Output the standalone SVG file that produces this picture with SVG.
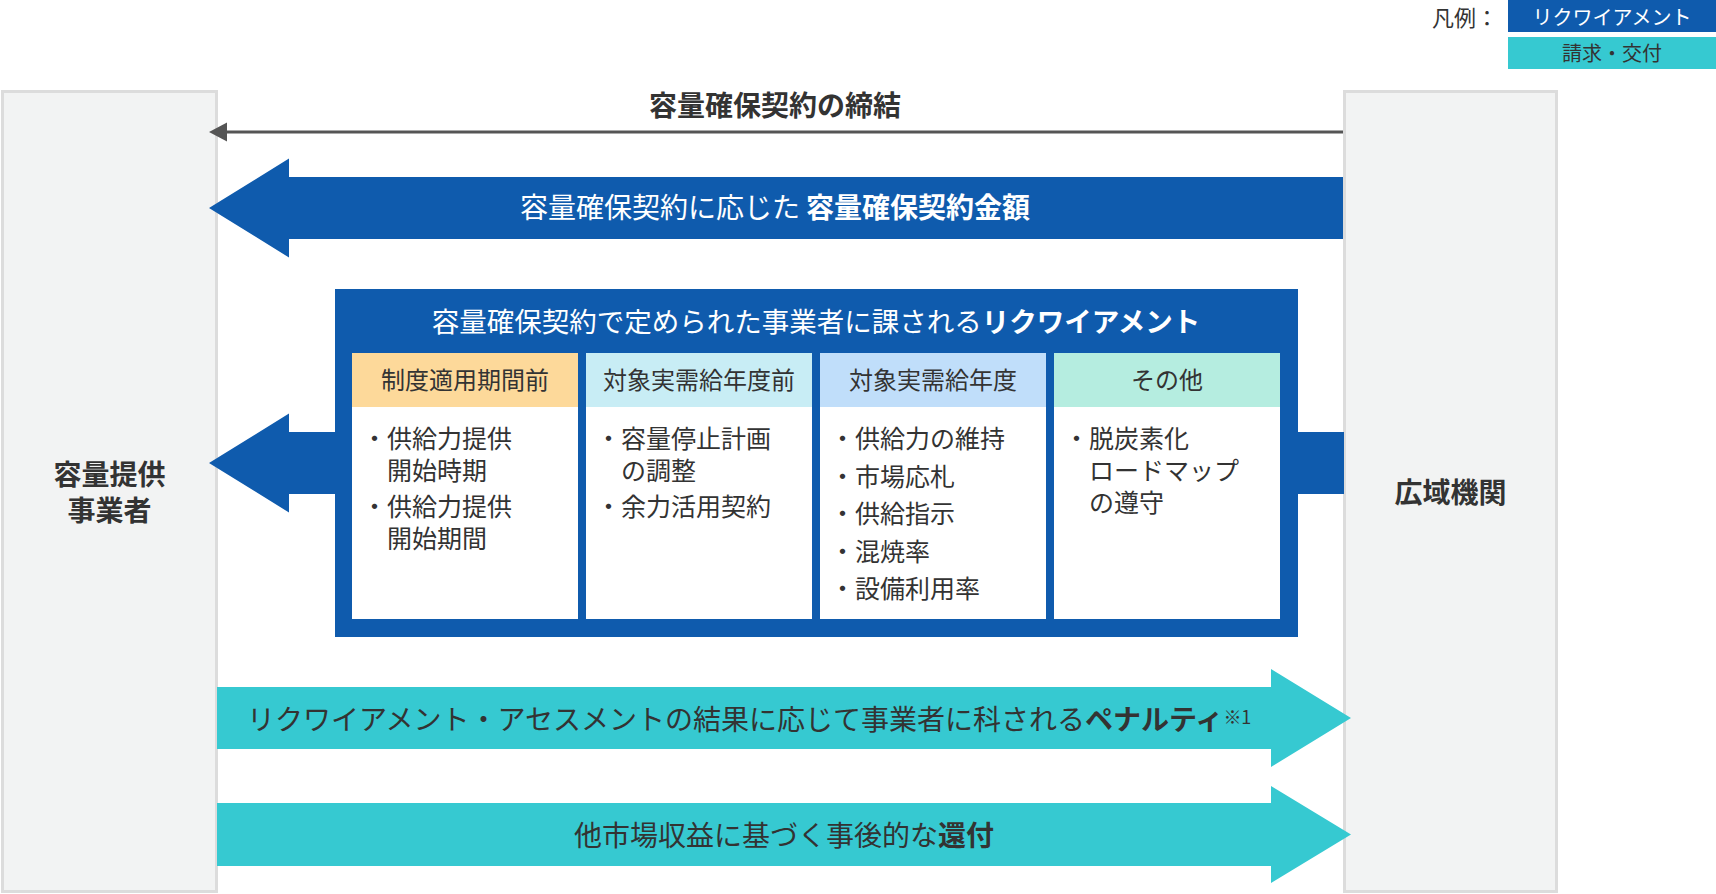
<svg xmlns="http://www.w3.org/2000/svg" width="1716" height="894" viewBox="0 0 1716 894">
<style>
text{font-family:"Noto Sans CJK JP","Noto Sans",sans-serif;}
.box{fill:#f2f3f3;stroke:#dcdcdc;stroke-width:3}
.blue{fill:#0f5bad}
.teal{fill:#36c9d1}
.lbl{font-size:28px;font-weight:700;fill:#333;text-anchor:middle}
.b{font-weight:700}
.ch{font-size:24px;fill:#333;text-anchor:middle}
.it{font-size:25px;fill:#333}
.body{fill:#fff}
</style>
<g id="legend">
<text x="1432" y="26" font-size="22" fill="#333">凡例：</text>
<rect x="1508" y="0" width="208" height="32" class="blue"/>
<text x="1612" y="25" font-size="20" fill="#fff" text-anchor="middle">リクワイアメント</text>
<rect x="1508" y="37" width="208" height="32" class="teal"/>
<text x="1612" y="61" font-size="20" fill="#333" text-anchor="middle">請求・交付</text>
</g>
<g id="provider">
<rect x="2.5" y="91.5" width="214" height="800" class="box"/>
<text x="109.5" y="485" class="lbl">容量提供</text>
<text x="109.5" y="521" class="lbl">事業者</text>
</g>
<g id="occto">
<rect x="1344.5" y="91.5" width="212" height="800" class="box"/>
<text x="1450.5" y="503" class="lbl">広域機関</text>
</g>
<g id="connectors">
<line x1="1343" y1="132" x2="225" y2="132" stroke="#555" stroke-width="3"/>
<polygon points="209,132 227,122.5 227,141.5" fill="#555"/>
<text x="775" y="116" class="lbl">容量確保契約の締結</text>
<polygon class="blue" points="209,208 289,158.5 289,177 1343,177 1343,239 289,239 289,257.5"/>
<text x="775" y="218" font-size="28" fill="#fff" text-anchor="middle">容量確保契約に応じた<tspan class="b" dx="6">容量確保契約金額</tspan></text>
<polygon class="blue" points="209,463 289,413.5 289,432 336,432 336,494 289,494 289,512.5"/>
<rect class="blue" x="1296" y="432" width="48" height="62"/>
<polygon class="teal" points="217,687 1271,687 1271,669 1351,718 1271,767 1271,749 217,749"/>
<text x="247" y="730" font-size="28" fill="#333">リクワイアメント・アセスメントの結果に応じて事業者に科される<tspan class="b">ペナルティ</tspan><tspan font-size="18" dy="-6">※1</tspan></text>
<polygon class="teal" points="217,803 1271,803 1271,786 1351,834.5 1271,883 1271,866 217,866"/>
<text x="784" y="846" font-size="28" fill="#333" text-anchor="middle">他市場収益に基づく事後的な<tspan class="b">還付</tspan></text>
</g>
<g id="requirements">
<rect x="335" y="289" width="963" height="348" class="blue"/>
<text x="816" y="332" font-size="27.5" fill="#fff" text-anchor="middle">容量確保契約で定められた事業者に課される<tspan class="b">リクワイアメント</tspan></text>
</g>
<g id="col-before-system">
<rect x="352" y="353" width="226" height="54" fill="#fdd99a"/>
<rect x="352" y="407" width="226" height="212" class="body"/>
<text x="465" y="389" class="ch">制度適用期間前</text>
<text x="362" y="448" class="it">・供給力提供</text>
<text x="387" y="480" class="it">開始時期</text>
<text x="362" y="516" class="it">・供給力提供</text>
<text x="387" y="548" class="it">開始期間</text>
</g>
<g id="col-before-year">
<rect x="586" y="353" width="226" height="54" fill="#c8edf5"/>
<rect x="586" y="407" width="226" height="212" class="body"/>
<text x="699" y="389" class="ch">対象実需給年度前</text>
<text x="596" y="448" class="it">・容量停止計画</text>
<text x="621" y="480" class="it">の調整</text>
<text x="596" y="516" class="it">・余力活用契約</text>
</g>
<g id="col-year">
<rect x="820" y="353" width="226" height="54" fill="#c0defa"/>
<rect x="820" y="407" width="226" height="212" class="body"/>
<text x="933" y="389" class="ch">対象実需給年度</text>
<text x="830" y="448" class="it">・供給力の維持</text>
<text x="830" y="485.5" class="it">・市場応札</text>
<text x="830" y="523" class="it">・供給指示</text>
<text x="830" y="560.5" class="it">・混焼率</text>
<text x="830" y="598" class="it">・設備利用率</text>
</g>
<g id="col-other">
<rect x="1054" y="353" width="226" height="54" fill="#b5ede0"/>
<rect x="1054" y="407" width="226" height="212" class="body"/>
<text x="1167" y="389" class="ch">その他</text>
<text x="1064" y="448" class="it">・脱炭素化</text>
<text x="1089" y="480" class="it">ロードマップ</text>
<text x="1089" y="512" class="it">の遵守</text>
</g>
</svg>
